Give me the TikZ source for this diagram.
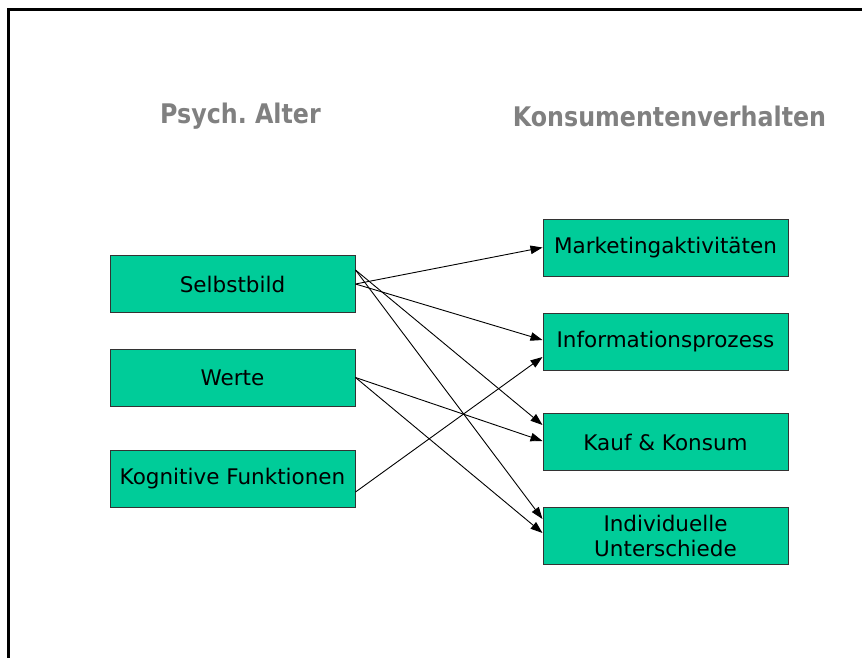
\documentclass[tikz,border=0pt]{standalone}
\usepackage{fontspec}
\setmainfont{DejaVu Sans}
\newfontfamily\headfont[FakeStretch=0.88]{DejaVu Sans}
\usetikzlibrary{arrows.meta,calc}
\definecolor{boxgreen}{RGB}{0,204,153}
\definecolor{headgray}{RGB}{128,128,128}
\begin{document}
\begin{tikzpicture}[x=1pt,y=-1pt,
  gbox/.style={draw=black!80,line width=1pt,fill=boxgreen,minimum width=245pt,minimum height=57pt,inner sep=0pt,align=center,font=\fontsize{21.5}{25.5}\selectfont},
  head/.style={text=headgray,font=\headfont\fontsize{27}{30}\selectfont\bfseries,inner sep=0pt},
  conn/.style={-{Triangle[length=12pt,width=8.5pt]},line width=0.9pt,black}]
\useasboundingbox (0,0) rectangle (862,657);
% frame
\coordinate (fa) at (8,657);
\coordinate (fb) at (8,9.3);
\coordinate (fc) at (862,9.3);
\draw[line width=3pt,line cap=rect] (fa) -- (fb) -- (fc);
% headers
\node[head] (h1) at (240.5,116) {Psych.\ Alter};
\node[head] (h2) at (669.5,116) {Konsumentenverhalten};
% left boxes
\node[gbox] (sb) at (232.5,284) {Selbstbild};
\node[gbox] (we) at (232.5,377.5) {Werte};
\node[gbox] (kf) at (232.5,478.5) {Kognitive Funktionen};
% right boxes
\node[gbox] (mk) at (665.5,247.5) {Marketingaktivitäten};
\node[gbox] (ip) at (665.5,341.5) {Informationsprozess};
\node[gbox] (kk) at (665.5,442) {Kauf \& Konsum};
\node[gbox] (iu) at (665.5,536) {Individuelle\\Unterschiede};
% connectors
\draw[conn] (sb.east) -- (mk.west);
\draw[conn] (sb.east) -- ([yshift=1.5pt]ip.west);
\draw[conn] ([yshift=14pt]sb.east) -- ([yshift=17pt]kk.west);
\draw[conn] ([yshift=14pt]sb.east) -- ([yshift=17pt]iu.west);
\draw[conn] (we.east) -- ([yshift=1pt]kk.west);
\draw[conn] (we.east) -- ([yshift=3pt]iu.west);
\draw[conn] ([yshift=-13.5pt]kf.east) -- ([yshift=-15.5pt]ip.west);
\end{tikzpicture}
\end{document}
